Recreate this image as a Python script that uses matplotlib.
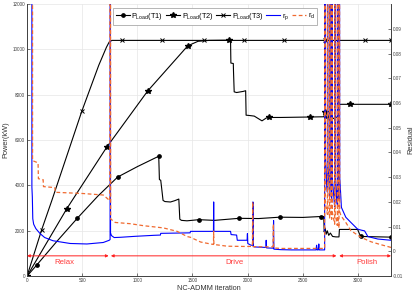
import matplotlib
matplotlib.use('Agg')
import matplotlib.pyplot as plt
from matplotlib.ticker import FuncFormatter

plt.rcParams['font.family'] = ['Liberation Sans', 'DejaVu Sans']

# load power of the three turbines (iteration, kW)
t1_pts = [(0, 0), (88, 490), (270, 1530), (457, 2560), (640, 3520), (821, 4370),
          (1000, 4830), (1194, 5290), (1200, 4260), (1212, 4230), (1220, 3900),
          (1233, 3340), (1250, 3290), (1300, 3270), (1340, 3330), (1376, 3400),
          (1385, 2510), (1400, 2460), (1450, 2440), (1557, 2490), (1700, 2460),
          (1921, 2550), (2100, 2540), (2290, 2600), (2500, 2590), (2664, 2630),
          (2690, 2630), (2694, 1950), (2702, 2120), (2712, 1850), (2722, 2000),
          (2735, 1800), (2750, 1900), (2770, 1750), (2800, 1730), (2828, 1730),
          (2832, 2060), (2997, 2060), (3015, 1850), (3027, 1750), (3300, 1720)]
t1_marks = [88, 457, 821, 1194, 1557, 1921, 2290, 2664, 3027, 3300]

t2_pts = [(0, 0), (361, 2980), (724, 5700), (1094, 8170), (1457, 10160),
          (1550, 10360), (1650, 10400), (1830, 10410), (1845, 10400), (1848, 9400),
          (1870, 9380), (1872, 9000), (1878, 8130), (1900, 8100), (1960, 8150),
          (1982, 8180), (1986, 7100), (2010, 7090), (2060, 7060), (2130, 6850),
          (2170, 6980), (2197, 7000), (2300, 7000), (2564, 7020), (2690, 7030),
          (2700, 7230), (2712, 6950), (2725, 7150), (2740, 6900), (2755, 7100),
          (2775, 6950), (2800, 7000), (2828, 7050), (2832, 7580), (2927, 7580),
          (3300, 7580)]
t2_marks = [0, 361, 724, 1094, 1457, 1830, 2197, 2564, 2700, 2927, 3300]

t3_pts = [(0, 0), (133, 2050), (225, 3340), (497, 7280), (650, 9300), (720, 10100),
          (745, 10330), (770, 10400), (863, 10400), (1227, 10400), (1600, 10400),
          (1964, 10400), (2327, 10400), (2700, 10400), (3064, 10400), (3300, 10400)]
t3_marks = [133, 497, 863, 1227, 1600, 1964, 2327, 2700, 3064, 3300]

# primal / dual residuals
rp_pts = [(1, 1.0), (43, 1.0), (44, 0.026), (48, 0.022), (52, 0.0132), (60, 0.011),
          (80, 0.0092), (118, 0.0072), (160, 0.0056), (236, 0.0043), (391, 0.0032),
          (543, 0.003), (691, 0.0036), (745, 0.0045), (753, 0.0048), (755, 0.3),
          (757, 0.0075), (765, 0.0064), (790, 0.0056), (845, 0.0057), (982, 0.0061),
          (1150, 0.0065), (1209, 0.0066), (1212, 0.0073), (1478, 0.0075),
          (1482, 0.0081), (1690, 0.0081), (1692, 0.020), (1694, 0.0081),
          (1845, 0.0081), (1850, 0.0068), (1900, 0.0066), (1906, 0.0045),
          (1995, 0.0045), (1998, 0.0072), (2001, 0.0032), (2030, 0.0025),
          (2046, 0.0025), (2048, 0.020), (2052, 0.0022), (2060, 0.0018),
          (2165, 0.0016), (2168, 0.0045), (2172, 0.0014), (2232, 0.0013),
          (2235, 0.0125), (2238, 0.0009), (2300, 0.0007), (2400, 0.0006),
          (2620, 0.0006), (2625, 0.0025), (2630, 0.0006), (2640, 0.0006),
          (2645, 0.003), (2650, 0.0006), (2698, 0.0006), (2700, 0.3), (2703, 0.04),
          (2715, 0.028), (2723, 0.024), (2725, 0.3), (2728, 0.035), (2740, 0.025),
          (2743, 0.022), (2745, 0.3), (2748, 0.032), (2760, 0.022), (2762, 0.02),
          (2764, 0.3), (2767, 0.03), (2785, 0.02), (2789, 0.018), (2791, 0.3),
          (2794, 0.03), (2810, 0.02), (2813, 0.019), (2815, 0.3), (2818, 0.028),
          (2826, 0.022), (2828, 0.021), (2830, 0.3), (2835, 0.03), (2850, 0.0178),
          (2890, 0.0138), (2936, 0.0117), (2997, 0.009), (3030, 0.0086),
          (3060, 0.0083), (3090, 0.006), (3180, 0.005), (3300, 0.0045)]

rd_pts = [(1, 1.0), (48, 1.0), (50, 0.0367), (100, 0.0358), (103, 0.0294),
          (146, 0.029), (149, 0.0262), (252, 0.0258), (256, 0.0239), (510, 0.0234),
          (691, 0.0228), (725, 0.0215), (750, 0.0205), (755, 0.3), (758, 0.0131),
          (800, 0.0117), (936, 0.0112), (1055, 0.0104), (1236, 0.0095),
          (1361, 0.0081), (1452, 0.006), (1482, 0.0057), (1573, 0.0038),
          (1664, 0.003), (1690, 0.0028), (1692, 0.0082), (1694, 0.0028),
          (1815, 0.0021), (1964, 0.002), (2043, 0.002), (2046, 0.020),
          (2049, 0.0019), (2230, 0.0018), (2233, 0.011), (2236, 0.0014),
          (2300, 0.0012), (2698, 0.0012), (2700, 0.3), (2703, 0.02), (2723, 0.015),
          (2725, 0.3), (2728, 0.018), (2743, 0.0135), (2745, 0.3), (2748, 0.017),
          (2762, 0.013), (2764, 0.3), (2767, 0.016), (2789, 0.011), (2791, 0.3),
          (2794, 0.015), (2813, 0.0105), (2815, 0.3), (2818, 0.014), (2828, 0.0095),
          (2830, 0.3), (2835, 0.016), (2845, 0.0145), (2890, 0.0117),
          (2936, 0.0084), (3027, 0.0057), (3118, 0.0039), (3209, 0.0027),
          (3300, 0.0016)]

# stage arrows (start, end) and labels
stages = ['Relax', 'Drive', 'Polish']
stage_span = [(0, 740), (760, 2805), (2830, 3300)]
stage_text_x = [336, 1880, 3080]

def unzip(pts):
    return [p[0] for p in pts], [p[1] for p in pts]

def mark_idx(xs, marks):
    return [xs.index(m) for m in marks]

fig, ax = plt.subplots(figsize=(4.16, 2.95), dpi=100)
fig.subplots_adjust(left=0.065, right=0.94, bottom=0.064, top=0.986)
ax2 = ax.twinx()

x1, y1 = unzip(t1_pts)
x2, y2 = unzip(t2_pts)
x3, y3 = unzip(t3_pts)
l1, = ax.plot(x1, y1, '-o', color='k', lw=0.8, ms=2.4, markevery=mark_idx(x1, t1_marks))
l2, = ax.plot(x2, y2, '-*', color='k', lw=0.8, ms=4.0, markevery=mark_idx(x2, t2_marks))
l3, = ax.plot(x3, y3, '-x', color='k', lw=0.8, ms=2.6, mew=0.7, markevery=mark_idx(x3, t3_marks))

xp, yp = unzip(rp_pts)
xd, yd = unzip(rd_pts)
lp, = ax2.plot(xp, yp, '-', color='#0000ff', lw=0.8)
ld, = ax2.plot(xd, yd, '--', color='#f06a30', lw=0.9, dashes=(3, 2))

ax.set_xlim(0, 3300)
ax.set_ylim(0, 12000)
ax.set_xticks(range(0, 3001, 500))
ax.set_yticks(range(0, 12001, 2000))
ax2.set_ylim(-0.01, 0.1)
ax2.set_yticks([i / 100 for i in range(-1, 10)])
ax2.yaxis.set_major_formatter(FuncFormatter(lambda v, p: '%g' % round(v, 3)))

ax.grid(True, color='#e6e6e6', lw=0.5)
ax.set_axisbelow(True)
for a in (ax, ax2):
    a.tick_params(direction='in', length=2, width=0.5, labelsize=3.3, pad=1.5,
                  colors='#404040')
    for s in a.spines.values():
        s.set_linewidth(0.6)
        s.set_color('#404040')
    a.spines['top'].set_visible(False)

ax.set_xlabel('NC-ADMM iteration', fontsize=5.3, labelpad=1.5, color='#333333')
ax.set_ylabel('Power(kW)', fontsize=5.3, labelpad=2, color='#333333')
ax2.set_ylabel('Residual', fontsize=5.3, labelpad=3, color='#333333')

for name, (s, e), tx in zip(stages, stage_span, stage_text_x):
    ax2.annotate('', xy=(e, -0.0018), xytext=(s, -0.0018),
                 arrowprops=dict(arrowstyle='<|-|>', color='#ff2020', lw=0.7,
                                 mutation_scale=4, shrinkA=0, shrinkB=0))
    ax2.text(tx, -0.0045, name, color='#ff3b3b', fontsize=5.6, ha='center', va='center')

labels = [r'$\mathregular{P_{Load}}$(T1)', r'$\mathregular{P_{Load}}$(T2)',
          r'$\mathregular{P_{Load}}$(T3)', r'$\mathregular{r_p}$', r'$\mathregular{r_d}$']
leg = ax2.legend([l1, l2, l3, lp, ld], labels, ncol=5, loc='upper left',
                 bbox_to_anchor=(0.236, 0.985), fontsize=5.3, fancybox=False,
                 edgecolor='#999999', framealpha=1, handlelength=1.9,
                 handletextpad=0.25, columnspacing=0.35, borderpad=0.35,
                 borderaxespad=0)
leg.get_frame().set_linewidth(0.5)

fig.savefig('out.png', dpi=100)
